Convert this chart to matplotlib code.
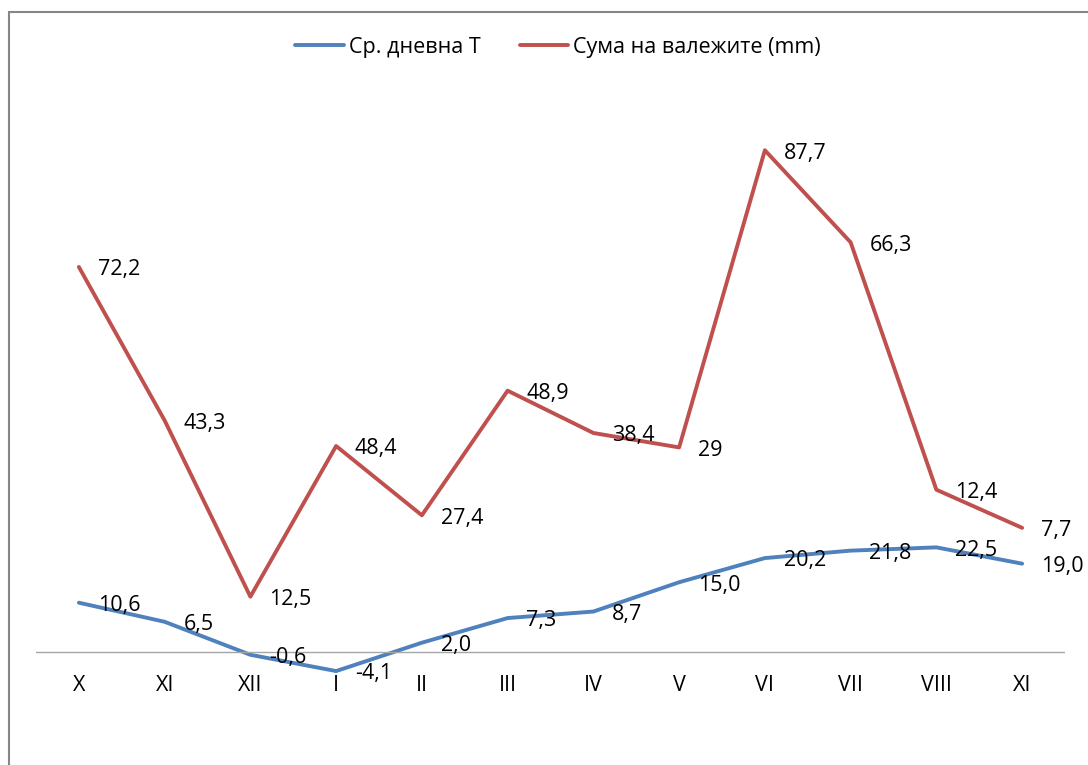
import matplotlib
matplotlib.use('Agg')
import matplotlib.pyplot as plt
from matplotlib.patches import Rectangle
import numpy as np

months = ['X', 'XI', 'XII', 'I', 'II', 'III', 'IV', 'V', 'VI', 'VII', 'VIII', 'XI']
temp = [10.6, 6.5, -0.6, -4.1, 2.0, 7.3, 8.7, 15.0, 20.2, 21.8, 22.5, 19.0]
rain = [72.2, 43.3, 12.5, 48.4, 27.4, 48.9, 38.4, 29, 87.7, 66.3, 12.4, 7.7]
temp_labels = ['10,6', '6,5', '-0,6', '-4,1', '2,0', '7,3', '8,7', '15,0',
               '20,2', '21,8', '22,5', '19,0']
rain_labels = ['72,2', '43,3', '12,5', '48,4', '27,4', '48,9', '38,4', '29',
               '87,7', '66,3', '12,4', '7,7']

plt.rcParams['font.family'] = ['Open Sans', 'DejaVu Sans']

blue = '#4F81BD'
red = '#C0504D'
fs = 15.5

fig = plt.figure(figsize=(10.88, 7.65), dpi=100)
fig.patch.set_facecolor('white')

# chart border (runs off the right and bottom edge like the screenshot)
fig.patches.append(Rectangle((9 / 1088, -0.1), 1.2, 1 - 12 / 765 + 0.1,
                             transform=fig.transFigure, fill=False,
                             edgecolor='#868686', linewidth=1.5))

ax = fig.add_axes([36 / 1088, 1 - 745 / 765, (1065 - 36) / 1088, 651 / 765])
x = np.arange(len(months))

# stacked line chart: rain drawn on top of temperature
stacked = np.array(temp) + np.array(rain)
ax.plot(x, temp, color=blue, linewidth=2.8, solid_capstyle='round',
        solid_joinstyle='round', label='Ср. дневна Т')
ax.plot(x, stacked, color=red, linewidth=2.8, solid_capstyle='round',
        solid_joinstyle='round', label='Сума на валежите (mm)')

for xi, yi, lab in zip(x, temp, temp_labels):
    ax.annotate(lab, (xi, yi), xytext=(13.5, -2), textcoords='offset points',
                ha='left', va='center', fontsize=fs, color='black')
for xi, yi, lab in zip(x, stacked, rain_labels):
    ax.annotate(lab, (xi, yi), xytext=(13.5, -2), textcoords='offset points',
                ha='left', va='center', fontsize=fs, color='black')

ax.axhline(0, color='#A6A6A6', linewidth=1)
for xi, m in zip(x, months):
    ax.text(xi, -7.3, m, ha='center', va='center', fontsize=fs, color='black')

ax.set_xlim(-0.5, 11.5)
ax.set_ylim(-20, 120)
ax.axis('off')

fig.legend(loc='center', bbox_to_anchor=(0.513, 1 - 47 / 765), ncol=2,
           frameon=False, fontsize=fs, handlelength=2.25, handletextpad=0.25,
           columnspacing=1.8)

plt.savefig('out.png', dpi=100, facecolor='white')
plt.close()
